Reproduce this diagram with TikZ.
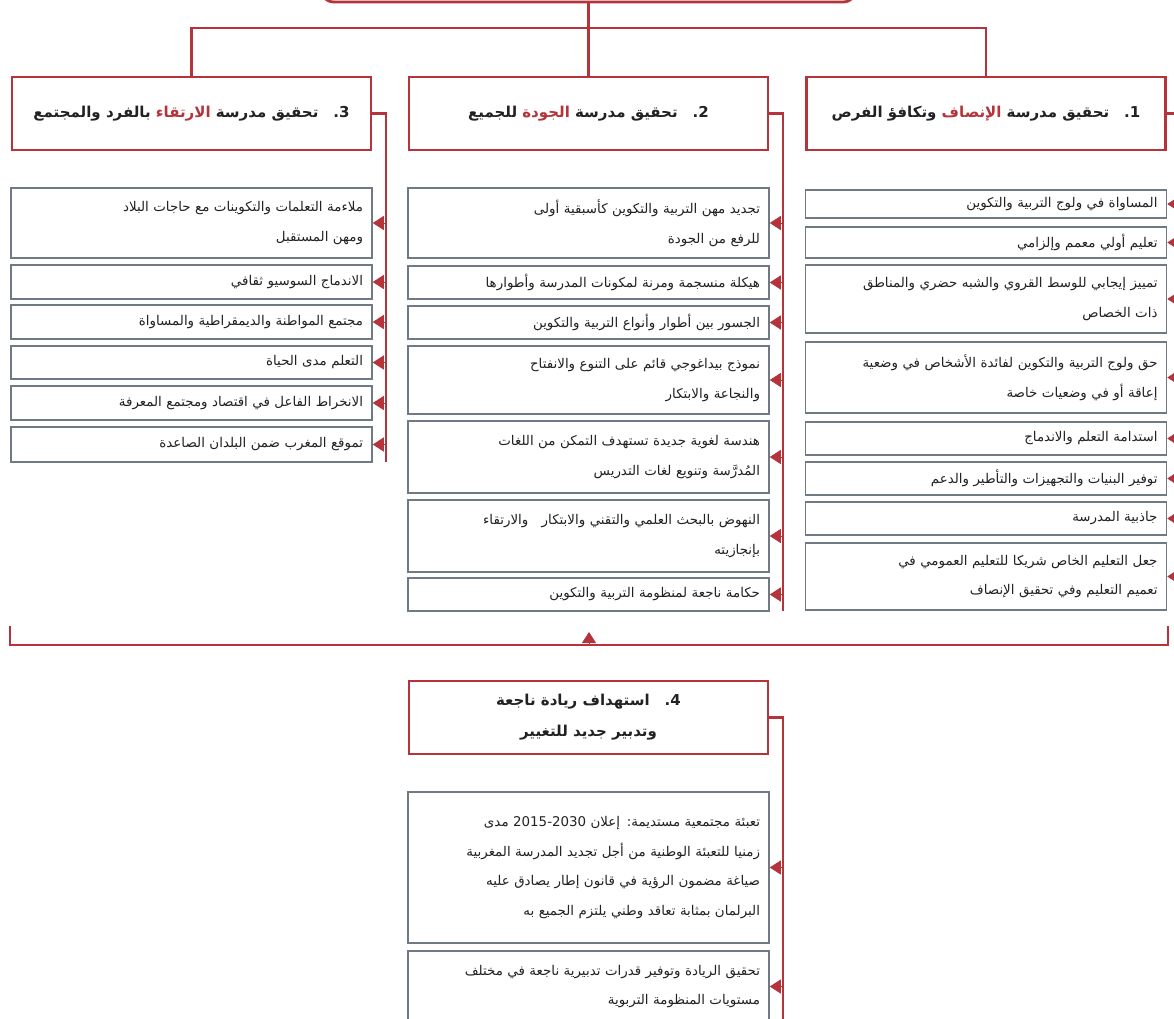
\documentclass[tikz,border=0pt]{standalone}
\usepackage{fontspec}
\usepackage{tikz}
\usetikzlibrary{calc,arrows.meta}

\newfontfamily\arabicfont[Script=Arabic]{DejaVu Sans}
\TeXXeTstate=1

\definecolor{redline}{HTML}{B5333B}
\definecolor{boxgray}{HTML}{6F7A84}
\definecolor{txt}{HTML}{222222}

%% right-to-left line, a red word, a number kept left-to-right
\newcommand\artxt[1]{\beginR #1\endR}
\newcommand\redword[1]{\beginL\textcolor{redline}{#1}\endL}
\newcommand\lrnum[1]{\beginL #1\endL}

\begin{document}
\begin{tikzpicture}[x=1pt,y=-1pt,
    link/.style={draw=redline,line width=2.4pt},
    tip/.style={draw=redline,fill=redline,line width=0.8pt,-{Triangle[length=11pt,width=14pt]}},
    title/.style={draw=redline,line width=2.8pt,fill=white,minimum width=359pt,minimum height=73pt,
      inner sep=0pt,align=center,text=txt,font=\arabicfont\bfseries\fontsize{15}{31}\selectfont},
    item/.style={draw=boxgray,line width=1.5pt,fill=white,inner xsep=9pt,inner ysep=0pt,
      text width=343pt,align=right,text=txt,font=\arabicfont\fontsize{13.4}{29.5}\selectfont}]

  %%%% Page frame %%%%
  \useasboundingbox (0,0) rectangle (1174,1018);
  \clip (0,0) rectangle (1174,1018);

  %% Top box (only its lower edge shows)
  \node[draw=redline,line width=2.8pt,rounded corners=14pt,minimum width=537pt,minimum height=64pt] (top) at (588.5,-30) {};

  %% The four headings
  \node[title] (h1) at (986,113.5) {\artxt{\lrnum{1.}\hspace{1em}تحقيق مدرسة \redword{الإنصاف} وتكافؤ الفرص}};
  \node[title] (h2) at (588.5,113.5) {\artxt{\lrnum{2.}\hspace{1em}تحقيق مدرسة \redword{الجودة} للجميع}};
  \node[title] (h3) at (191.5,113.5) {\artxt{\lrnum{3.}\hspace{1em}تحقيق مدرسة \redword{الارتقاء} بالفرد والمجتمع}};
  \node[title] (h4) at (588.5,717.5) {\artxt{\lrnum{4.}\hspace{1em}استهداف ريادة ناجعة}\\\artxt{وتدبير جديد للتغيير}};

  %% Fork from the top box
  \coordinate (fork) at (588.5,28);
  \draw[link] (top.south) -- (fork);
  \draw[link] (fork) -| (h3.north);
  \draw[link] (fork) -| (h1.north);
  \draw[link] (fork) -- (h2.north);

  %% Spines on the right of each heading
  \coordinate (s1end) at (1180,611);
  \coordinate (s2end) at (783,611);
  \coordinate (s3end) at (386,462);
  \coordinate (s4end) at (783,1030);
  \draw[link] (h1.east) -| (s1end);
  \draw[link] (h2.east) -| (s2end);
  \draw[link] (h3.east) -| (s3end);
  \draw[link] (h4.east) -| (s4end);

  %% Column 1
  \foreach \n/\ytop/\ybot/\txt in {
      1/190/218/{\artxt{المساواة في ولوج التربية والتكوين}},
      2/227/258/{\artxt{تعليم أولي معمم وإلزامي}},
      3/265/333/{\artxt{تمييز إيجابي للوسط القروي والشبه حضري والمناطق}\\\artxt{ذات الخصاص}},
      4/342/413/{\artxt{حق ولوج التربية والتكوين لفائدة الأشخاص في وضعية\ }\\\artxt{إعاقة أو في وضعيات خاصة\ }},
      5/422/455/{\artxt{استدامة التعلم والاندماج}},
      6/462/495/{\artxt{توفير البنيات والتجهيزات والتأطير والدعم}},
      7/502/535/{\artxt{جاذبية المدرسة}},
      8/543/610/{\artxt{جعل التعليم الخاص شريكا للتعليم العمومي في}\\\artxt{تعميم التعليم وفي تحقيق الإنصاف}}}{
    \node[item,minimum height={\ybot-\ytop}] (c1-\n) at (986,{(\ytop+\ybot)/2}) {\txt};
    \draw[tip] (c1-\n.east -| s1end) -- (c1-\n.east);
  }

  %% Column 2
  \foreach \n/\ytop/\ybot/\txt in {
      1/188/258/{\artxt{تجديد مهن التربية والتكوين كأسبقية أولى}\\\artxt{للرفع من الجودة}},
      2/266/299/{\artxt{هيكلة منسجمة ومرنة لمكونات المدرسة وأطوارها}},
      3/306/339/{\artxt{الجسور بين أطوار وأنواع التربية والتكوين}},
      4/346/414/{\artxt{نموذج بيداغوجي قائم على التنوع والانفتاح}\\\artxt{والنجاعة والابتكار}},
      5/421/493/{\artxt{هندسة لغوية جديدة تستهدف التمكن من اللغات}\\\artxt{المُدرَّسة وتنويع لغات التدريس}},
      6/500/572/{\artxt{النهوض بالبحث العلمي والتقني والابتكار\quad والارتقاء}\\\artxt{بإنجازيته}},
      7/578/611/{\artxt{حكامة ناجعة لمنظومة التربية والتكوين}}}{
    \node[item,minimum height={\ybot-\ytop}] (c2-\n) at (588.5,{(\ytop+\ybot)/2}) {\txt};
    \draw[tip] (c2-\n.east -| s2end) -- (c2-\n.east);
  }

  %% Column 3
  \foreach \n/\ytop/\ybot/\txt in {
      1/188/258/{\artxt{ملاءمة التعلمات والتكوينات مع حاجات البلاد}\\\artxt{ومهن المستقبل}},
      2/265/299/{\artxt{الاندماج السوسيو ثقافي}},
      3/305/339/{\artxt{مجتمع المواطنة والديمقراطية والمساواة}},
      4/346/379/{\artxt{التعلم مدى الحياة}},
      5/386/420/{\artxt{الانخراط الفاعل في اقتصاد ومجتمع المعرفة}},
      6/427/462/{\artxt{تموقع المغرب ضمن البلدان الصاعدة}}}{
    \node[item,minimum height={\ybot-\ytop}] (c3-\n) at (191.5,{(\ytop+\ybot)/2}) {\txt};
    \draw[tip] (c3-\n.east -| s3end) -- (c3-\n.east);
  }

  %% Column 4 (under the bracket)
  \foreach \n/\ytop/\ybot/\txt in {
      1/792/943/{\artxt{تعبئة مجتمعية مستديمة: إعلان \lrnum{2015-2030} مدى}\\\artxt{زمنيا للتعبئة الوطنية من أجل تجديد المدرسة المغربية}\\\artxt{صياغة مضمون الرؤية في قانون إطار يصادق عليه}\\\artxt{البرلمان بمثابة تعاقد وطني يلتزم الجميع به}},
      2/951/1022/{\artxt{تحقيق الريادة وتوفير قدرات تدبيرية ناجعة في مختلف\ }\\\artxt{مستويات المنظومة التربوية\ }}}{
    \node[item,minimum height={\ybot-\ytop}] (c4-\n) at (588.5,{(\ytop+\ybot)/2}) {\txt};
    \draw[tip] (c4-\n.east -| s4end) -- (c4-\n.east);
  }

  %% Bracket gathering the three columns
  \coordinate (bl) at (10,626);
  \coordinate (br) at (1168,626);
  \coordinate (bmid) at (589,645);
  \draw[link] (bl) |- (bmid) -| (br);
  \draw[tip] (bmid) -- ++(0,-13);

\end{tikzpicture}
\end{document}
